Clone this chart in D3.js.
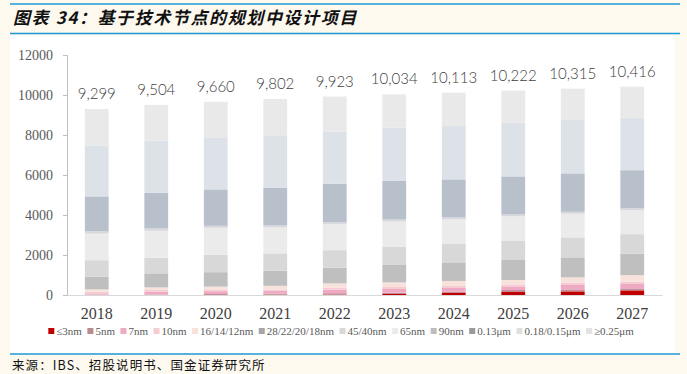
<!DOCTYPE html>
<html>
<head>
<meta charset="utf-8">
<script src="https://cdn.jsdelivr.net/npm/d3@7"></script>
<style>
  body { margin: 0; background: #fdf9ef; }
  svg { display: block; }
</style>
</head>
<body>
<svg id="chart" width="687" height="374"></svg>
<script>
// data
const years = ["2018", "2019", "2020", "2021", "2022", "2023", "2024", "2025", "2026", "2027"];
const totals = [9299, 9504, 9660, 9802, 9923, 10034, 10113, 10222, 10315, 10416];
const nodes = ["≤3nm", "5nm", "7nm", "10nm", "16/14/12nm", "28/22/20/18nm", "45/40nm", "65nm", "90nm", "0.13μm", "0.18/0.15μm", "≥0.25μm"];

const n3 = [0, 0, 0, 10, 20, 50, 100, 150, 180, 230];
const n5 = [0, 20, 50, 60, 70, 70, 70, 100, 100, 100];
const n7 = [40, 150, 140, 150, 180, 180, 180, 180, 220, 220];
const n10 = [130, 80, 60, 60, 100, 100, 100, 100, 110, 110];
const n16 = [110, 130, 170, 180, 210, 230, 250, 220, 270, 330];
const n28 = [630, 700, 720, 750, 780, 870, 930, 1000, 1000, 1080];
const n45 = [830, 780, 870, 870, 880, 920, 920, 950, 1000, 970];
const n65 = [1330, 1350, 1350, 1300, 1300, 1250, 1230, 1230, 1180, 1200];
const n90 = [130, 120, 100, 100, 100, 100, 100, 100, 100, 100];
const u13 = [1730, 1780, 1820, 1880, 1920, 1930, 1900, 1900, 1920, 1900];
const u18 = [2550, 2600, 2570, 2630, 2600, 2680, 2670, 2680, 2670, 2630];
const u25 = [1819, 1794, 1810, 1812, 1763, 1654, 1663, 1612, 1565, 1546];

const yTicks = [0, 2000, 4000, 6000, 8000, 10000, 12000];

const series = [n3, n5, n7, n10, n16, n28, n45, n65, n90, u13, u18, u25];
const colors = ["#c00000", "#c68d98", "#efa9c2", "#f5cbd4", "#f8e3dc", "#bfbfbf", "#d8d8d8", "#ebebeb", "#d6d8dc", "#b8c0cc", "#dde2e9", "url(#dots)"];
const legendColors = ["#c00000", "#b98a92", "#efa9c2", "#f5cbd4", "#f8e3dc", "#a6a6a6", "#d8d8d8", "#ebebeb", "#bdbdbd", "#9a9a9a", "#e0e0e0", "#e3e3e3"];

let rows = years.map(function (yr, i) {
  let r = { year: yr };
  nodes.forEach(function (k, j) { r[k] = series[j][i]; });
  return r;
});

let svg = d3.select("#chart");

// page furniture
svg.append("rect").attr("x", 10).attr("y", 35).attr("width", 665).attr("height", 318).attr("fill", "#ffffff");
svg.append("line").attr("x1", 10).attr("x2", 680).attr("y1", 4).attr("y2", 4).attr("stroke", "#1d9ad6").attr("stroke-width", 1.5);
svg.append("line").attr("x1", 10).attr("x2", 680).attr("y1", 33.5).attr("y2", 33.5).attr("stroke", "#1d9ad6").attr("stroke-width", 1.5);
svg.append("line").attr("x1", 10).attr("x2", 680).attr("y1", 354).attr("y2", 354).attr("stroke", "#1d9ad6").attr("stroke-width", 1.5);

svg.append("text")
  .attr("x", 13).attr("y", 24)
  .style("font-family", "'Noto Sans CJK SC'")
  .style("font-weight", 700)
  .style("font-style", "italic")
  .style("font-size", "17px")
  .style("letter-spacing", "1.6px")
  .attr("fill", "#111")
  .text("图表 34：基于技术节点的规划中设计项目");

svg.append("text")
  .attr("x", 12).attr("y", 370)
  .style("font-family", "'Noto Sans CJK SC'")
  .style("font-size", "12.5px")
  .style("letter-spacing", "1.1px")
  .attr("fill", "#111")
  .text("来源：IBS、招股说明书、国金证券研究所");

// dotted texture for the top segment
let pat = svg.append("defs").append("pattern")
  .attr("id", "dots").attr("width", 4).attr("height", 4)
  .attr("patternUnits", "userSpaceOnUse");
pat.append("rect").attr("width", 4).attr("height", 4).attr("fill", "#eaeaea");
pat.append("rect").attr("x", 0).attr("y", 0).attr("width", 1).attr("height", 1).attr("fill", "#e2e2e2");
pat.append("rect").attr("x", 2).attr("y", 2).attr("width", 1).attr("height", 1).attr("fill", "#e4e4e4");

// scales
let x = d3.scaleBand().domain(years).range([67, 662]).paddingInner(0.6).paddingOuter(0.3);
let y = d3.scaleLinear().domain([0, 12000]).range([295, 55]);

let stacked = d3.stack().keys(nodes)(rows);

svg.append("g")
  .selectAll("g")
  .data(stacked)
  .enter()
  .append("g")
  .attr("fill", function (d, i) { return colors[i]; })
  .selectAll("rect")
  .data(function (d) { return d; })
  .enter()
  .append("rect")
  .attr("x", function (d) { return x(d.data.year); })
  .attr("y", function (d) { return y(d[1]); })
  .attr("width", x.bandwidth())
  .attr("height", function (d) { return y(d[0]) - y(d[1]); });

// y axis
let yAxis = svg.append("g")
  .attr("transform", "translate(67,0)")
  .call(d3.axisLeft(y).tickValues(yTicks).tickFormat(d3.format("d")).tickSize(4).tickPadding(10));
yAxis.select(".domain").attr("stroke", "#bfbfbf");
yAxis.selectAll(".tick line").attr("stroke", "#bfbfbf");
yAxis.selectAll("text")
  .style("font-family", "'Liberation Serif'")
  .style("font-size", "14px")
  .attr("fill", "#595959");

// x axis
let xAxis = svg.append("g")
  .attr("transform", "translate(0,295)")
  .call(d3.axisBottom(x).tickSize(0).tickPadding(13));
xAxis.select(".domain").attr("stroke", "#d9d9d9");
xAxis.selectAll("text")
  .style("font-family", "'Liberation Serif'")
  .style("font-size", "16px")
  .attr("fill", "#404040");

// totals
svg.append("g")
  .selectAll("text")
  .data(totals)
  .enter()
  .append("text")
  .attr("x", function (d, i) { return x(years[i]) + x.bandwidth() / 2; })
  .attr("y", function (d) { return y(d) - 10; })
  .attr("text-anchor", "middle")
  .style("font-family", "Lato")
  .style("font-size", "15px")
  .style("font-weight", 300)
  .attr("fill", "#404040")
  .text(d3.format(","));

// legend
let legend = svg.append("g");
let lx = 0;
nodes.forEach(function (name, i) {
  let item = legend.append("g").attr("transform", "translate(" + lx + ",0)");
  item.append("rect").attr("x", 0).attr("y", -3).attr("width", 6).attr("height", 6).attr("fill", legendColors[i]);
  let t = item.append("text")
    .attr("x", 8).attr("y", 4)
    .style("font-family", "'Liberation Serif'")
    .style("font-size", "11px")
    .attr("fill", "#595959")
    .text(name);
  lx += 8 + t.node().getComputedTextLength() + 5.5;
});
legend.attr("transform", "translate(" + (341 - (lx - 5.5) / 2) + ",331)");
</script>
</body>
</html>
